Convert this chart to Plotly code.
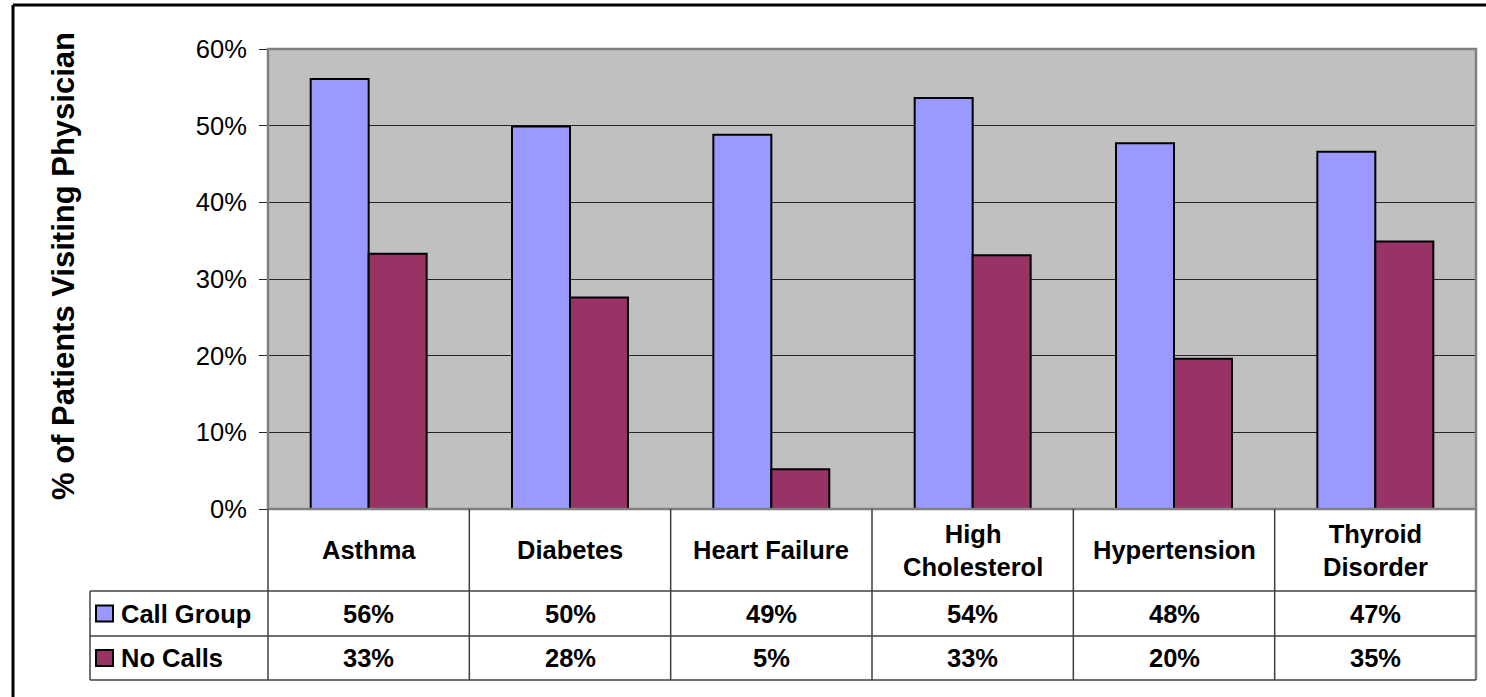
import plotly.graph_objects as go

# Chart data
categories = ["Asthma", "Diabetes", "Heart Failure", "High Cholesterol", "Hypertension", "Thyroid Disorder"]
category_labels = ["Asthma", "Diabetes", "Heart Failure", "High<br>Cholesterol", "Hypertension", "Thyroid<br>Disorder"]
series_names = ["Call Group", "No Calls"]
call_group = [0.561, 0.499, 0.488, 0.536, 0.477, 0.466]
no_calls = [0.333, 0.276, 0.052, 0.331, 0.196, 0.349]
y_ticks = [0, 0.1, 0.2, 0.3, 0.4, 0.5, 0.6]

colors = ["#9999FF", "#993366"]
FONT = "Liberation Sans, Arial, sans-serif"

W, H = 1486, 697
L, R, T, B = 268, 1476, 49, 509  # plot-area pixel box


def px(x):
    return (x - L) / (R - L)


def py(y):
    return (B - y) / (B - T)


fig = go.Figure()
for name, vals, col in zip(series_names, [call_group, no_calls], colors):
    fig.add_trace(go.Bar(
        x=categories, y=vals, name=name,
        marker=dict(color=col, line=dict(color="black", width=2)),
        showlegend=False,
    ))

shapes = []
annotations = []

# plot area border
shapes.append(dict(type="rect", xref="paper", yref="paper", x0=0, x1=1, y0=0, y1=1,
                   line=dict(color="#808080", width=2.5), layer="above"))

# outer chart frame (left and top edges)
shapes.append(dict(type="line", xref="paper", yref="paper", x0=px(13), x1=px(13),
                   y0=py(5), y1=py(720), line=dict(color="black", width=3)))
shapes.append(dict(type="line", xref="paper", yref="paper", x0=px(13), x1=px(1500),
                   y0=py(5), y1=py(5), line=dict(color="black", width=3)))

# data table grid
grid = dict(color="#404040", width=1.5)
n = len(categories)
col_w = (R - L) / n
row_top, row1, row2, row3 = B, 591, 636, 680
for i in range(n):
    xx = L + i * col_w
    shapes.append(dict(type="line", xref="paper", yref="paper", x0=px(xx), x1=px(xx),
                       y0=py(row_top), y1=py(row3), line=grid))
shapes.append(dict(type="line", xref="paper", yref="paper", x0=px(R), x1=px(R),
                   y0=py(row_top), y1=py(row3), line=dict(color="#808080", width=2.5)))
shapes.append(dict(type="line", xref="paper", yref="paper", x0=px(90), x1=px(90),
                   y0=py(row1), y1=py(row3), line=grid))
for yy in (row1, row2, row3):
    shapes.append(dict(type="line", xref="paper", yref="paper", x0=px(90), x1=px(R),
                       y0=py(yy), y1=py(yy), line=grid))

# category header row
for i, lab in enumerate(category_labels):
    annotations.append(dict(xref="paper", yref="paper", x=(i + 0.5) / n, y=py((row_top + row1) / 2),
                            text=f"<b>{lab}</b>", showarrow=False, xanchor="center", yanchor="middle",
                            font=dict(family=FONT, size=25.5, color="black")))

# value rows with legend keys
for r, (name, vals, col) in enumerate(zip(series_names, [call_group, no_calls], colors)):
    top, bot = [(row1, row2), (row2, row3)][r]
    mid = (top + bot) / 2
    for i, v in enumerate(vals):
        annotations.append(dict(xref="paper", yref="paper", x=(i + 0.5) / n, y=py(mid),
                                text=f"<b>{v * 100:.0f}%</b>", showarrow=False,
                                xanchor="center", yanchor="middle",
                                font=dict(family=FONT, size=25.5, color="black")))
    shapes.append(dict(type="rect", xref="paper", yref="paper", x0=px(96), x1=px(113),
                       y0=py(mid - 8), y1=py(mid + 8), fillcolor=col,
                       line=dict(color="black", width=2)))
    annotations.append(dict(xref="paper", yref="paper", x=px(119), y=py(mid),
                            text=f"<b>{name}</b>", showarrow=False, xanchor="left", yanchor="middle",
                            font=dict(family=FONT, size=25.5, color="black")))

# y-axis title
annotations.append(dict(xref="paper", yref="paper", x=px(63), y=py(266),
                        text="<b>% of Patients Visiting Physician</b>", textangle=-90,
                        showarrow=False, xanchor="center", yanchor="middle",
                        font=dict(family=FONT, size=31, color="black")))

fig.update_layout(
    width=W, height=H,
    margin=dict(l=L, r=W - R, t=T, b=H - B, pad=0),
    paper_bgcolor="white", plot_bgcolor="#C0C0C0",
    barmode="group", bargap=0.424, bargroupgap=0,
    shapes=shapes, annotations=annotations,
    xaxis=dict(range=[-0.5, n - 0.5], showticklabels=False, showgrid=False,
               zeroline=False, showline=False, ticks=""),
    yaxis=dict(range=[0, 0.6], tickvals=y_ticks, tickformat=".0%",
               showgrid=True, gridcolor="#262626", gridwidth=1,
               zeroline=False, showline=False, ticks="outside", ticklen=8,
               tickcolor="#262626", tickwidth=1, ticklabelstandoff=7,
               tickfont=dict(family=FONT, size=25.5, color="black")),
    font=dict(family=FONT),
)

fig.write_html("out.html")
